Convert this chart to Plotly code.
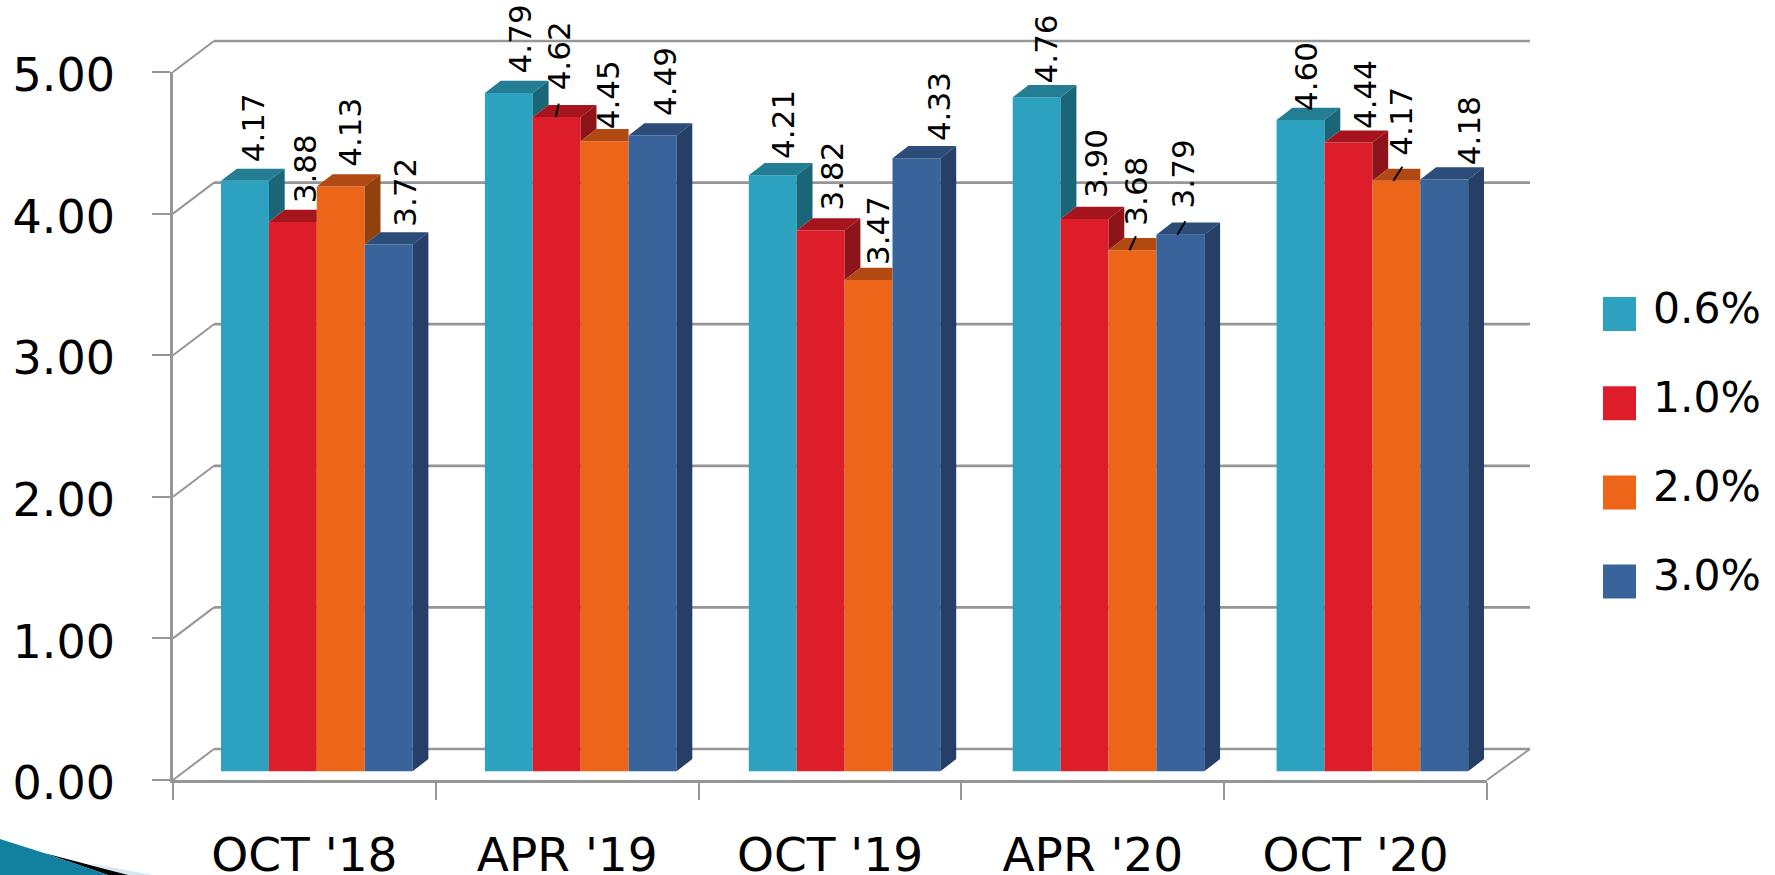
import plotly.graph_objects as go

categories = ["OCT '18", "APR '19", "OCT '19", "APR '20", "OCT '20"]
series_names = ["0.6%", "1.0%", "2.0%", "3.0%"]
values_06 = [4.17, 4.79, 4.21, 4.76, 4.60]
values_10 = [3.88, 4.62, 3.82, 3.90, 4.44]
values_20 = [4.13, 4.45, 3.47, 3.68, 4.17]
values_30 = [3.72, 4.49, 4.33, 3.79, 4.18]
y_ticks = [0, 1, 2, 3, 4, 5]
y_tick_labels = ["0.00", "1.00", "2.00", "3.00", "4.00", "5.00"]

series_values = [values_06, values_10, values_20, values_30]
front_colors = ["#2CA2C0", "#DD1E2A", "#EC6519", "#38649B"]
top_colors = ["#237D93", "#A6141E", "#B04A12", "#2C4C79"]
side_colors = ["#1B6578", "#8D141B", "#93400F", "#253F66"]

# plot frame in page pixels
W, H = 1775, 875
L, R, T, B = 173, 1487, 72, 780
UX = (R - L) / 5
UY = (B - T) / 5
GRID = "#969696"

# 3-D look, in data units
BASE = 8.7 / UY
BAR_W = 47.9 / UX
PITCH = 263.9 / UX
BAR_OFF0 = (221.0 - (L + UX / 2)) / UX
DX, DY = 15.8 / UX, 12.2 / UY
WALL_DX, WALL_DY = 41 / UX, 31 / UY
RIGHT_DX = 43 / UX


def px_x(x):
    return (x + 0.5) / 5


def px_y(y):
    return y / 5


fig = go.Figure()
group_x = [g * PITCH for g in range(len(categories))]

# front faces
for i, vals in enumerate(series_values):
    fig.add_trace(go.Bar(
        x=group_x, y=vals, base=BASE, width=BAR_W,
        offset=BAR_OFF0 + i * BAR_W, name=series_names[i],
        marker=dict(color=front_colors[i], line=dict(width=0)),
        hoverinfo="y+name", showlegend=False))

# top and side faces, from the same values
for i, vals in enumerate(series_values):
    tx, ty, sx, sy = [], [], [], []
    for g, v in enumerate(vals):
        left = group_x[g] + BAR_OFF0 + i * BAR_W
        right = left + BAR_W
        top = v + BASE
        nxt = series_values[i + 1][g] + BASE if i < 3 else None
        if nxt is not None and nxt > top:
            tx += [left, right, right, left + DX, left, None]
            ty += [top, top, top + DY, top + DY, top, None]
        else:
            tx += [left, right, right + DX, left + DX, left, None]
            ty += [top, top, top + DY, top + DY, top, None]
            low = BASE if nxt is None else nxt
            sx += [right, right + DX, right + DX, right, right, None]
            sy += [top, top + DY, low + DY, low, top, None]
    fig.add_trace(go.Scatter(x=tx, y=ty, mode="lines", line=dict(width=0), fill="toself",
                             fillcolor=top_colors[i], hoverinfo="skip", showlegend=False,
                             cliponaxis=False))
    fig.add_trace(go.Scatter(x=sx, y=sy, mode="lines", line=dict(width=0), fill="toself",
                             fillcolor=side_colors[i], hoverinfo="skip", showlegend=False,
                             cliponaxis=False))

# label placement relative to the bar's top centre, in pixels (per series, per group)
label_dx = [[8, 11, 9.5, 9, 6], [13, 2, 11, 11, 16], [9, 3, 10, 3.5, 5], [16, 12.5, 22.5, 2.4, 25]]
label_gap = [[19, 20, 16, 14, 9], [19, 27, 20, 21, 13.5], [20, 12, 15, 25, 25], [18, 19, 17.5, 26.5, 14]]

annotations = []
for i, vals in enumerate(series_values):
    for g, v in enumerate(vals):
        cx = group_x[g] + BAR_OFF0 + (i + 0.5) * BAR_W
        annotations.append(dict(
            x=cx, y=v + BASE, xref="x", yref="y", text=f"{v:.2f}", textangle=-90,
            showarrow=False, xanchor="center", yanchor="bottom",
            xshift=label_dx[i][g], yshift=label_gap[i][g], borderpad=0, borderwidth=0,
            font=dict(family="DejaVu Sans", size=31, color="black")))

# short leader lines: (series, group, start dx px, start dy px, end dx px, end dy px)
leaders = [(1, 1, -1, 0, 2, 13.5), (2, 3, -3, 0, 3.5, 14), (3, 3, -3, 0, 5, 13.5), (2, 4, -3, 0, 6, 14)]
for i, g, x0, y0, x1, y1 in leaders:
    cx = group_x[g] + BAR_OFF0 + (i + 0.5) * BAR_W
    v = series_values[i][g] + BASE
    fig.add_trace(go.Scatter(x=[cx + x0 / UX, cx + x1 / UX], y=[v + y0 / UY, v + y1 / UY],
                             mode="lines", line=dict(color="black", width=2),
                             hoverinfo="skip", showlegend=False, cliponaxis=False))

shapes = []


def line(x0, y0, x1, y1, width=2.7):
    shapes.append(dict(type="line", xref="paper", yref="paper", layer="below",
                       x0=px_x(x0), y0=px_y(y0), x1=px_x(x1), y1=px_y(y1),
                       line=dict(color=GRID, width=width)))


x_end = 4.5 + RIGHT_DX
for t in y_ticks:
    line(-0.5 + WALL_DX, t + WALL_DY, x_end, t + WALL_DY)
    line(-0.5, t, -0.5 + WALL_DX, t + WALL_DY, width=2)
line(4.5, 0, x_end, WALL_DY, width=2)


def page_x(p):
    return (p - L) / (R - L)


def page_y(p):
    return (B - p) / (B - T)


def poly(points, color):
    d = "M" + " L".join(f"{page_x(a):.5f},{page_y(b):.5f}" for a, b in points) + " Z"
    shapes.append(dict(type="path", xref="paper", yref="paper", layer="above", path=d,
                       fillcolor=color, line=dict(width=0)))


# corner decoration of the slide
poly([(88, 863), (153, 875), (126, 875)], "#D6E8F0")
poly([(44, 853), (128, 875), (108, 875)], "#000000")
poly([(0, 839), (44, 853), (108, 875), (0, 875)], "#12809F")

# legend, drawn at the size of the reference swatches
for i, name in enumerate(series_names):
    y0 = 297 + 89.2 * i
    shapes.append(dict(type="rect", xref="paper", yref="paper", layer="above",
                       x0=page_x(1603), x1=page_x(1636), y0=page_y(y0), y1=page_y(y0 + 34),
                       fillcolor=front_colors[i], line=dict(width=0)))
    annotations.append(dict(x=page_x(1651), y=page_y(y0 + 11), xref="paper", yref="paper",
                            text=name, showarrow=False, xanchor="left", yanchor="middle",
                            font=dict(family="DejaVu Sans", size=42.5, color="black")))

fig.update_layout(
    width=W, height=H, autosize=False, barmode="overlay",
    margin=dict(l=L, r=W - R, t=T, b=H - B, pad=0),
    paper_bgcolor="white", plot_bgcolor="rgba(0,0,0,0)", showlegend=False,
    font=dict(family="DejaVu Sans", color="black"),
    shapes=shapes, annotations=annotations,
    xaxis=dict(range=[-0.5, 4.5], tickmode="array", tickvals=list(range(5)), ticktext=categories,
               ticks="", showgrid=False, zeroline=False, showline=True, linecolor=GRID, linewidth=2.7,
               automargin=False, ticklabelstandoff=32,
               tickfont=dict(family="DejaVu Sans", size=47, color="black"),
               minor=dict(tickmode="array", tickvals=[-0.5, 0.5, 1.5, 2.5, 3.5, 4.5], ticks="outside",
                          ticklen=17, tickcolor=GRID, tickwidth=2, showgrid=False)),
    yaxis=dict(range=[0, 5], tickmode="array", tickvals=y_ticks, ticktext=y_tick_labels,
               ticks="outside", ticklen=18, tickcolor=GRID, tickwidth=2, showgrid=False,
               zeroline=False, showline=True, linecolor=GRID, linewidth=2.7, automargin=False,
               ticklabelstandoff=28, ticklabelshift=3,
               tickfont=dict(family="DejaVu Sans", size=46, color="black")),
)

fig.write_html("out.html", config={"displayModeBar": False},
               post_script="document.body.style.margin='0';document.body.style.overflow='hidden';")
